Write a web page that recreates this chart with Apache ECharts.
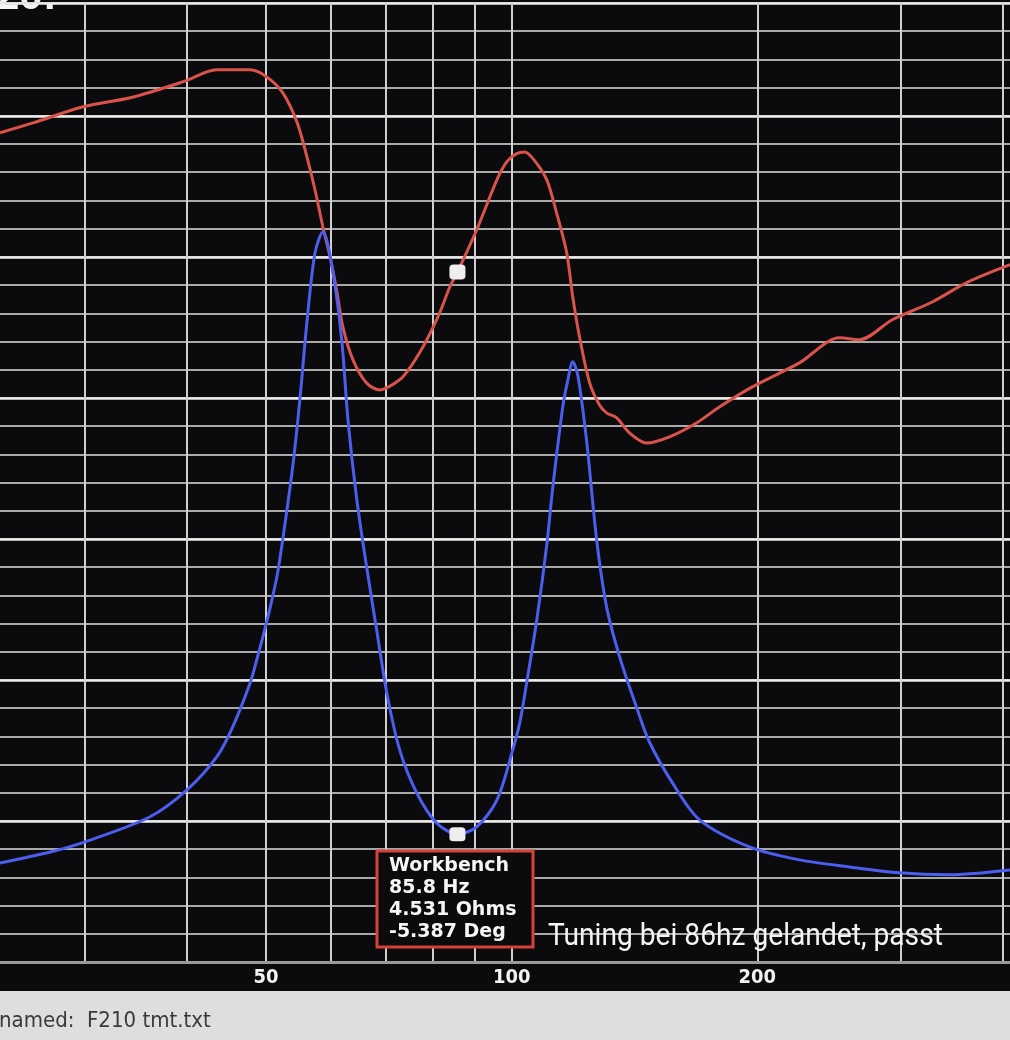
<!DOCTYPE html>
<html>
<head>
<meta charset="utf-8">
<script src="https://cdn.jsdelivr.net/npm/echarts@6/dist/echarts.min.js"></script>
<style>
html,body{margin:0;padding:0;background:#0b0b0d;}
#chart{width:1010px;height:1040px;}
</style>
</head>
<body>
<div id="chart"></div>
<script>
// Frequency grid / tick labels (Hz)
const gridFreqs = [30, 40, 50, 60, 70, 80, 90, 100, 200, 300, 400];
const labelFreqs = [50, 100, 200];

// Impedance magnitude (Ohms) – blue
const freqZ = [23.6, 27.2, 30.0, 36.0, 40.0, 43.5, 45.5, 47.8, 48.7, 49.7, 50.6, 51.6, 52.4, 53.9, 55.0, 56.1, 57.4, 58.7,
  60.4, 61.9, 63.0, 64.6, 66.4, 68.4, 70.3, 72.9, 76.5, 80.9, 85.8, 90.6, 95.9, 100.3, 102.3, 104.3, 107.3,
  110.4, 112.2, 115.5, 117.1, 118.8, 120.5, 123.5, 127.1, 130.7, 135.6, 142.2, 147.5, 157.4, 169.9, 195.6,
  225.2, 259.3, 298.5, 343.7, 408];
const impedance = [3.51, 3.90, 4.26, 5.14, 6.10, 7.27, 8.33, 9.89, 10.71, 11.67, 12.59, 13.72, 14.96, 17.55, 19.93, 22.66, 25.14, 25.89,
  24.43, 22.06, 19.22, 16.38, 14.01, 11.67, 9.54, 7.52, 5.99, 4.93, 4.531, 4.79, 5.74, 7.52, 8.48, 9.89, 12.1,
  14.79, 16.74, 19.68, 20.6, 21.28, 20.8, 18.51, 14.96, 12.59, 10.82, 9.04, 7.80, 6.35, 5.04, 4.08,
  3.62, 3.37, 3.16, 3.09, 3.26];

// Phase (degrees) – red
const freqP = [23.6, 25.9, 29.85, 34.4, 39.6, 43.5, 47.8, 50.1, 52.4, 54.6, 56.1, 57.4, 58.7, 59.9, 61.1, 62.1, 63.9,
  66.4, 68.9, 72.9, 75.0, 77.2, 78.7, 81.6, 84.0, 85.8, 90.6, 95.9, 98.6, 101.4, 103.7, 106.5, 110.4, 113.5, 116.8, 118.8, 121.1,
  124.6, 128.1, 130.7, 134.5, 139.4, 146.3, 156.1, 168.4, 179.7, 197.2, 225.2, 252.1, 266.7, 292.7, 327.6, 360.6, 408];
const phase = [44.0, 47.5, 53.2, 56.7, 62.1, 66.3, 66.3, 63.8, 58.2, 47.5, 35.5, 23.8, 10.6, 0, -12.8, -24.8, -36.5,
  -44.7, -47.2, -43.6, -39.4, -33.7, -29.4, -19.9, -10.6, -5.387, 9.6, 27.3, 33.7, 36.6, 37.2, 34.4, 27.3, 15.6, 1.4, -14.2, -28.4,
  -44.7, -52.5, -55.3, -57.1, -62.4, -66.0, -63.8, -58.9, -53.2, -46.1, -37.6, -28.7, -29.4, -22.3, -16.0, -9.2, -2.8];

// Cursor readout
const cursorFreq = 85.8;
const cursorOhms = 4.531;
const cursorDeg = -5.387;
const readoutLines = ['Workbench', cursorFreq + ' Hz', cursorOhms + ' Ohms', cursorDeg + ' Deg'];
const noteText = 'Tuning bei 86hz gelandet, passt';
const fileText = 'named:  F210 tmt.txt';

const zData = freqZ.map((f, i) => [f, impedance[i]]);
const pData = freqP.map((f, i) => [f, phase[i]]);

const chart = echarts.init(document.getElementById('chart'), null, {renderer: 'canvas'});
chart.setOption({
  backgroundColor: '#0b0b0d',
  animation: false,
  grid: {left: 0, right: 0, top: 3, bottom: 78, containLabel: false},
  xAxis: {
    type: 'log', logBase: 10, min: 23.6, max: 408,
    axisLine: {show: true, lineStyle: {color: '#9a9a9a', width: 3}},
    axisTick: {show: false, customValues: gridFreqs},
    axisLabel: {show: true, customValues: labelFreqs, color: '#f2f2f2', fontWeight: 'bold', fontSize: 20,
      fontFamily: 'Liberation Sans Narrow, DejaVu Sans Condensed, Arial, sans-serif', margin: 6},
    splitLine: {show: true, lineStyle: {color: '#cfcfcf', width: 2}}
  },
  yAxis: [
    {type: 'value', min: 0, max: 34, interval: 1,
      axisLine: {show: false}, axisTick: {show: false}, axisLabel: {show: false},
      splitLine: {show: true, lineStyle: {color: '#a9a9a9', width: 2}}},
    {type: 'value', min: -250, max: 90, interval: 50, position: 'left',
      axisLine: {show: false}, axisTick: {show: false}, axisLabel: {show: false},
      splitLine: {show: true, lineStyle: {color: '#ececec', width: 2.5}}}
  ],
  series: [
    {type: 'line', name: 'Impedance', data: zData, yAxisIndex: 0, smooth: 0.3, showSymbol: false,
      lineStyle: {color: '#4c5ef0', width: 3}, z: 3,
      markPoint: {symbol: 'roundRect', symbolSize: [16, 14], itemStyle: {color: '#eeeeee'}, label: {show: false},
        data: [{coord: [cursorFreq, cursorOhms]}]}},
    {type: 'line', name: 'Phase', data: pData, yAxisIndex: 1, smooth: 0.3, showSymbol: false,
      lineStyle: {color: '#d9534b', width: 3}, z: 2,
      markPoint: {symbol: 'roundRect', symbolSize: [16, 15], itemStyle: {color: '#eeeeee'}, label: {show: false},
        data: [{coord: [cursorFreq, cursorDeg]}]}}
  ],
  graphic: [
    {type: 'text', left: -4, top: -24, style: {text: '20:', fill: '#f4f4f4', font: 'bold 42px Arial'}},
    {type: 'rect', shape: {x: 0, y: 991, width: 1010, height: 49}, style: {fill: '#dededc'}, z: 10},
    {type: 'text', x: -1, y: 1021, style: {text: fileText, fill: '#3a3a3a', fontSize: 22,
      fontFamily: 'Liberation Sans Narrow, DejaVu Sans Condensed, Roboto, sans-serif', verticalAlign: 'middle'}, z: 11},
    {type: 'rect', shape: {x: 377, y: 851, width: 156, height: 96}, style: {fill: '#0b0b0b', stroke: '#d4433a', lineWidth: 3}, z: 20},
    {type: 'text', x: 389, y: 855, style: {text: readoutLines.join('\n'), fill: '#f6f6f6',
      font: 'bold 19px "DejaVu Sans"', lineHeight: 22}, z: 21},
    {type: 'text', x: 548, y: 937, scaleX: 0.88, style: {text: noteText, fill: '#f4f4f4', fontSize: 32,
      fontFamily: 'Roboto, sans-serif', verticalAlign: 'middle'}, z: 21}
  ]
});
</script>
</body>
</html>
